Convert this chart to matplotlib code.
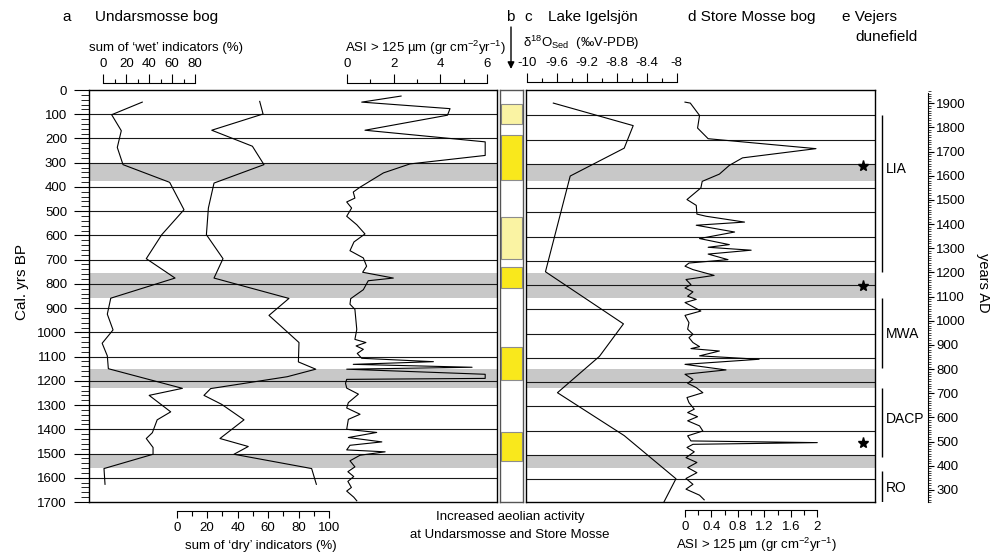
import matplotlib.pyplot as plt
from matplotlib.ticker import MultipleLocator

plt.rcParams['font.family'] = ['Liberation Sans', 'DejaVu Sans']
plt.rcParams['mathtext.fontset'] = 'custom'
plt.rcParams['mathtext.rm'] = 'Liberation Sans'
plt.rcParams['mathtext.it'] = 'Liberation Sans:italic'
plt.rcParams['mathtext.default'] = 'regular'

# Undarsmosse bog (cal. yrs BP, value)
wet_bp = [50, 102, 168, 237, 308, 381, 494, 597, 696, 776, 859, 925, 990, 1045, 1097,
          1150, 1231, 1260, 1328, 1361, 1414, 1438, 1475, 1503, 1562, 1627]
wet_pct = [34, 7.3, 15.7, 12.2, 17.2, 57.9, 70.4, 51, 37.5, 62.6, 6.5, 3.5, 8.5, -1, 3.5,
           4.4, 69, 40, 58.8, 47, 42.8, 37.5, 43.4, 43.4, 0.6, 1.5]

dry_bp = [47, 99, 166, 232, 308, 384, 487, 597, 696, 776, 860, 930, 1042, 1122, 1152,
          1183, 1232, 1260, 1297, 1361, 1438, 1471, 1503, 1562, 1627]
dry_pct = [54.5, 56.7, 23, 49.7, 57.3, 24.5, 20.8, 19.5, 30.4, 24.5, 73.7, 60.6, 80.3, 79.9, 91.3,
           72.6, 22.3, 17.9, 29.5, 44.2, 28.4, 47, 37.6, 88.6, 91.7]

asi_u_bp = [25, 50, 77, 104, 166, 214, 270, 305, 342, 401, 421, 446, 462, 487, 521, 556, 594,
            627, 663, 693, 727, 752, 776, 787, 824, 861, 884, 905, 988, 1029, 1042, 1056, 1070,
            1087, 1107, 1121, 1132, 1144, 1152, 1173, 1190, 1194, 1210, 1230, 1255, 1290, 1312,
            1338, 1359, 1400, 1413, 1434, 1452, 1466, 1485, 1493, 1507, 1530, 1555, 1575, 1595,
            1615, 1640, 1655, 1680, 1695]
asi_u = [2.32, 0.64, 4.41, 4.3, 0.78, 5.91, 5.91, 2.7, 1.57, 0.57, 0.28, 0.35, 0.0, 0.21, 0.0, 0.43, 0.78,
         0.31, 0.14, 0.71, 0.85, 0.68, 1.99, 0.92, 0.71, 0.17, 0.14, 0.35, 0.43, 0.35, 0.82, 0.40, 0.71,
         0.45, 0.64, 3.7, 0.28, 5.35, 0.0, 5.91, 5.91, 0.0, -0.05, 0.0, 0.5, 0.07, 0.0,
         0.57, 0.07, 0.0, 1.28, 0.07, 1.5, 0.14, 0.0, 1.64, 0.57, 0.14, 0.35, 0.05, 0.3,
         0.05, 0.2, 0.0, 0.3, 0.43]

# Lake Igelsjon
d18o_bp = [54, 147, 240, 355, 750, 965, 1099, 1249, 1426, 1604, 1700]
d18o = [-9.645, -8.58, -8.70, -9.42, -9.75, -8.71, -9.03, -9.59, -8.70, -8.01, -8.17]

# Store Mosse bog
asi_s_bp = [50, 54, 105, 157, 201, 242, 280, 311, 347, 377, 404, 452, 476, 512, 521, 545, 558,
            586, 613, 638, 649, 661, 677, 700, 714, 727, 741, 765, 782, 803, 817, 833, 851,
            864, 877, 912, 930, 960, 987, 1008, 1022, 1042, 1059, 1067, 1077, 1097, 1111, 1132,
            1155, 1173, 1194, 1210, 1228, 1249, 1269, 1290, 1317, 1331, 1348, 1365, 1386, 1407,
            1427, 1448, 1455, 1462, 1475, 1493, 1517, 1537, 1558, 1579, 1603, 1627, 1647, 1672, 1691]
asi_s = [0.0, 0.08, 0.22, 0.19, 0.35, 1.98, 0.87, 0.67, 0.52, 0.26, 0.24, 0.03, 0.17, 0.18, 0.32, 0.90, 0.17,
         0.75, 0.22, 0.67, 0.35, 1.0, 0.35, 0.65, 0.06, 0.0, 0.12, 0.44, 0.015, 0.09, 0.0, 0.12, 0.04,
         0.17, 0.0, 0.24, 0.0, 0.06, 0.04, 0.12, 0.06, 0.12, 0.22, 0.09, 0.52, 0.22, 1.12, 0.0,
         0.62, 0.0, 0.12, 0.04, 0.17, 0.27, 0.03, 0.06, 0.14, 0.04, 0.19, 0.04, 0.22, 0.27,
         0.04, 0.09, 2.0, 0.12, 0.03, 0.14, 0.015, 0.18, 0.04, 0.18, 0.015, 0.12, 0.015, 0.22, 0.29]

# column b: increased aeolian activity
aeol_start = [58, 186, 523, 729, 1059, 1410]
aeol_end = [140, 371, 697, 816, 1196, 1529]
aeol_strong = [False, True, False, True, True, True]

band_start = [305, 755, 1151, 1506]
band_end = [375, 857, 1229, 1560]

star_bp = [314, 809, 1455]

periods = ['LIA', 'MWA', 'DACP', 'RO']
period_start = [103, 858, 1229, 1572]
period_end = [751, 1147, 1514, 1700]
period_label_bp = [326, 1006, 1357, 1642]

W, H = 993, 555
fig = plt.figure(figsize=(W / 100, H / 100), dpi=100)


def box(x0, y0, x1, y1):
    return fig.add_axes([x0 / W, 1 - y1 / H, (x1 - x0) / W, (y1 - y0) / H])


def span(px0, px1, v0, v1, a0, a1):
    k = (v1 - v0) / (px1 - px0)
    return v0 + (a0 - px0) * k, v0 + (a1 - px0) * k


def ftext(x, y, s, **kw):
    kw.setdefault('va', 'center')
    kw.setdefault('fontsize', 9.5)
    fig.text(x / W, 1 - y / H, s, **kw)


def scale(px0, px1, y, v0, v1, major, minor, top=True):
    if top:
        s = box(px0, y, px1, y + 0.01)
        side = 'top'
    else:
        s = box(px0, y - 0.01, px1, y)
        side = 'bottom'
    s.patch.set_visible(False)
    for k, sp in s.spines.items():
        sp.set_visible(k == side)
        sp.set_linewidth(0.8)
    s.set_xlim(v0, v1)
    s.set_yticks([])
    s.xaxis.set_ticks_position(side)
    s.xaxis.set_label_position(side)
    s.xaxis.set_major_locator(MultipleLocator(major))
    s.xaxis.set_minor_locator(MultipleLocator(minor))
    s.tick_params(axis='x', which='major', direction='out', length=6.5 if top else 5,
                  width=0.8, labelsize=9.5, pad=3)
    s.tick_params(axis='x', which='minor', direction='out', length=3 if top else 3.5, width=0.8)
    s.xaxis.set_major_formatter(lambda v, p: f'{v:g}')
    return s


def curve(ax, px0, px1, v0, v1, a0, a1, vals, bp):
    t = ax.twiny()
    t.set_xlim(span(px0, px1, v0, v1, a0, a1))
    t.plot(vals, bp, color='black', lw=0.8)
    t.axis('off')


# panel a
ax_a = box(89, 90, 497, 502)
ax_a.set_ylim(1700, 0)
ax_a.set_xlim(0, 1)
ax_a.set_xticks([])
for s, e in zip(band_start, band_end):
    ax_a.axhspan(s, e, color='#c8c8c8', lw=0, zorder=0)
ax_a.hlines(range(100, 1700, 100), 0, 1, color='#1a1a1a', lw=0.8)
ax_a.set_yticks(range(0, 1701, 100))
ax_a.yaxis.set_minor_locator(MultipleLocator(20))
ax_a.tick_params(axis='y', which='major', length=10.8, width=0.8, labelsize=9.5, pad=5)
ax_a.tick_params(axis='y', which='minor', length=5.5, width=0.6)
for sp in ax_a.spines.values():
    sp.set_linewidth(1.0)
curve(ax_a, 103.3, 195, 0, 80, 89, 497, wet_pct, wet_bp)
curve(ax_a, 176.7, 329, 0, 100, 89, 497, dry_pct, dry_bp)
curve(ax_a, 346.7, 487.3, 0, 6, 89, 497, asi_u, asi_u_bp)

scale(103.3, 195, 83, 0, 80, 20, 10)
scale(346.7, 487.3, 83, 0, 6, 2, 1)
scale(176.7, 329, 511, 0, 100, 20, 10, top=False)

# panel b
ax_b = box(500, 90, 523, 502)
ax_b.set_ylim(1700, 0)
ax_b.set_xlim(0, 1)
ax_b.set_xticks([])
ax_b.set_yticks([])
for s, e, strong in zip(aeol_start, aeol_end, aeol_strong):
    ax_b.bar(0.5, e - s, bottom=s, width=0.94,
             color='#f9e81c' if strong else '#faf3a3', edgecolor='#8c8c8c', lw=0.8)
for sp in ax_b.spines.values():
    sp.set_color('#555555')
    sp.set_linewidth(1.0)

# panels c and d
ax_c = box(526, 90, 875, 502)
ax_c.set_ylim(1700, 0)
ax_c.set_xlim(0, 1)
ax_c.set_xticks([])
ax_c.set_yticks([])
for s, e in zip(band_start, band_end):
    ax_c.axhspan(s, e, color='#c8c8c8', lw=0, zorder=0)
ax_c.hlines(range(105, 1700, 100), 0, 1, color='#1a1a1a', lw=0.8)
for sp in ax_c.spines.values():
    sp.set_linewidth(1.0)
ax_c.plot([0.966] * len(star_bp), star_bp, ls='none', marker='*', ms=8, color='black')
curve(ax_c, 526.7, 676.7, -10, -8, 526, 875, d18o, d18o_bp)
curve(ax_c, 685, 817.3, 0, 2, 526, 875, asi_s, asi_s_bp)

scale(526.7, 676.7, 82, -10, -8, 0.4, 0.2)
scale(685, 817.3, 510, 0, 2, 0.4, 0.2, top=False)

# climate periods
ax_p = box(876, 90, 926, 502)
ax_p.set_ylim(1700, 0)
ax_p.set_xlim(0, 50)
ax_p.axis('off')
ax_p.vlines([6] * len(periods), period_start, period_end, color='black', lw=1.0)
for name, yb in zip(periods, period_label_bp):
    ax_p.text(9.5, yb, name, va='center', ha='left', fontsize=10)

# years AD axis
ax_y = box(900, 90, 928, 502)
ax_y.set_ylim(250, 1955)
ax_y.patch.set_visible(False)
for k, sp in ax_y.spines.items():
    sp.set_visible(k == 'right')
ax_y.spines['right'].set_bounds(250, 1942)
ax_y.spines['right'].set_linewidth(0.8)
ax_y.set_xticks([])
ax_y.yaxis.tick_right()
ax_y.set_yticks(range(300, 1901, 100))
ax_y.yaxis.set_minor_locator(MultipleLocator(10))
ax_y.tick_params(axis='y', which='major', length=4, width=0.8, labelsize=9.5, pad=2)
ax_y.tick_params(axis='y', which='minor', length=1.8, width=0.5)

# headers and labels
ftext(62, 17, 'a', fontsize=11)
ftext(95, 17, 'Undarsmosse bog', fontsize=11)
ftext(510, 17, 'b', fontsize=11, ha='center')
ftext(524, 17, 'c', fontsize=11)
ftext(548, 17, 'Lake Igelsjön', fontsize=11)
ftext(688, 17, 'd Store Mosse bog', fontsize=11)
ftext(842, 17, 'e Vejers', fontsize=11)
ftext(855, 37, 'dunefield', fontsize=11)

ftext(89, 48, 'sum of \u2018wet\u2019 indicators (%)')
ftext(345, 48, 'ASI > 125 \u00b5m (gr cm$^{-2}$yr$^{-1}$)')
ftext(523, 43, '$\\delta^{18}$O$_{Sed}$  (\u2030V-PDB)')
ftext(261, 546, 'sum of \u2018dry\u2019 indicators (%)', ha='center')
ftext(756, 545, 'ASI > 125 \u00b5m (gr cm$^{-2}$yr$^{-1}$)', ha='center')
ftext(510, 517, 'Increased aeolian activity', ha='center')
ftext(510, 535, 'at Undarsmosse and Store Mosse', ha='center')
ftext(22, 282, 'Cal. yrs BP', fontsize=11, rotation=90, ha='center')
ftext(983, 283, 'years AD', fontsize=10.5, rotation=270, ha='center')

fig.add_artist(plt.Annotation('', xy=(511 / W, 1 - 69 / H), xytext=(511 / W, 1 - 27 / H),
                              xycoords='figure fraction', textcoords='figure fraction',
                              arrowprops=dict(arrowstyle='-|>', color='black', lw=1.0,
                                              mutation_scale=10, shrinkA=0, shrinkB=0)))

fig.savefig('out.png', dpi=100)
